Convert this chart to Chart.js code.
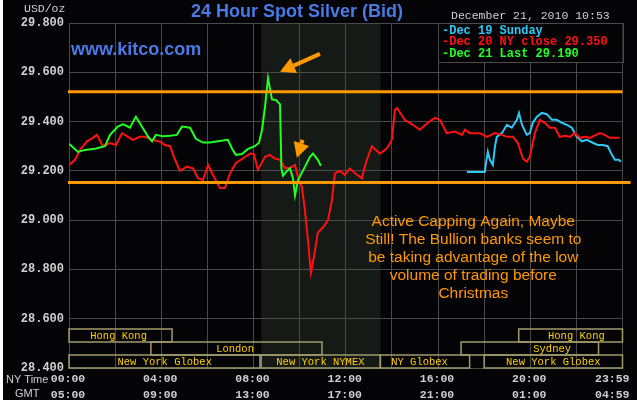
<!DOCTYPE html>
<html>
<head>
<meta charset="utf-8">
<title>24 Hour Spot Silver (Bid)</title>
<script src="https://cdn.jsdelivr.net/npm/chart.js@4.4.0/dist/chart.umd.min.js"></script>
<style>
  html, body { margin: 0; padding: 0; background: #fff; }
  #wrap { width: 637px; height: 403px; }
</style>
</head>
<body>
<div id="wrap"><canvas id="silverChart" width="637" height="403"></canvas></div>
<script>
// hours since 00:00 NY time, price in USD/oz
const dec21Hours = [0, 0.39, 0.69, 1.13, 1.56, 1.78, 2.12, 2.34, 2.64, 2.90, 3.16, 3.42, 3.60, 3.77, 4.08, 4.38, 4.68, 4.90, 5.25, 5.50, 5.81, 6.11, 6.46, 6.89, 7.07, 7.24, 7.50, 7.76, 8.06, 8.24, 8.37, 8.50, 8.63, 8.80, 8.97, 9.15, 9.21, 9.28, 9.45, 9.58, 9.71, 9.80, 9.93, 10.14, 10.45, 10.58, 10.79, 10.92];
const dec21Prices = [29.31, 29.277, 29.285, 29.29, 29.30, 29.346, 29.38, 29.39, 29.375, 29.42, 29.38, 29.34, 29.32, 29.346, 29.34, 29.342, 29.346, 29.38, 29.375, 29.33, 29.315, 29.315, 29.32, 29.326, 29.29, 29.265, 29.268, 29.289, 29.30, 29.314, 29.367, 29.46, 29.577, 29.49, 29.488, 29.47, 29.21, 29.18, 29.20, 29.21, 29.17, 29.10, 29.163, 29.2, 29.257, 29.27, 29.245, 29.22];

const dec20Hours = [0, 0.26, 0.48, 0.78, 1.04, 1.21, 1.47, 1.78, 2.04, 2.30, 2.56, 2.77, 3.08, 3.29, 3.60, 3.95, 4.16, 4.38, 4.60, 4.81, 5.11, 5.38, 5.59, 5.81, 6.03, 6.24, 6.55, 6.76, 6.98, 7.24, 7.54, 7.85, 8.02, 8.19, 8.50, 8.71, 8.93, 9.15, 9.36, 9.58, 9.80, 9.93, 10.10, 10.23, 10.36, 10.49, 10.62, 10.79, 11.01, 11.23, 11.40, 11.53, 11.75, 11.96, 12.18, 12.40, 12.70, 12.87, 13.13, 13.48, 13.78, 14.00, 14.13, 14.22, 14.56, 14.91, 15.21, 15.56, 15.86, 16.08, 16.38, 16.73, 17.04, 17.17, 17.38, 17.82, 18.12, 18.47, 18.77, 18.99, 19.25, 19.46, 19.68, 19.85, 19.98, 20.20, 20.42, 20.63, 20.85, 21.07, 21.28, 21.50, 21.72, 21.93, 22.15, 22.37, 22.58, 23.02, 23.23, 23.45, 23.88];
const dec20Prices = [29.224, 29.245, 29.285, 29.32, 29.334, 29.346, 29.30, 29.313, 29.305, 29.353, 29.338, 29.326, 29.338, 29.338, 29.326, 29.318, 29.305, 29.30, 29.245, 29.20, 29.217, 29.21, 29.17, 29.163, 29.224, 29.184, 29.13, 29.13, 29.19, 29.232, 29.25, 29.27, 29.268, 29.204, 29.257, 29.265, 29.25, 29.245, 29.212, 29.212, 29.224, 29.175, 29.135, 29.04, 28.92, 28.786, 28.85, 28.95, 28.97, 29.0, 29.08, 29.19, 29.2, 29.184, 29.21, 29.19, 29.17, 29.232, 29.30, 29.27, 29.29, 29.325, 29.447, 29.455, 29.407, 29.387, 29.367, 29.395, 29.415, 29.407, 29.353, 29.36, 29.346, 29.367, 29.353, 29.353, 29.338, 29.353, 29.346, 29.338, 29.338, 29.314, 29.25, 29.237, 29.257, 29.353, 29.407, 29.395, 29.375, 29.375, 29.338, 29.342, 29.338, 29.353, 29.334, 29.338, 29.334, 29.353, 29.346, 29.334, 29.334];

const dec19Hours = [17.25, 18.03, 18.08, 18.16, 18.25, 18.38, 18.47, 18.55, 18.77, 18.99, 19.20, 19.42, 19.51, 19.64, 19.85, 19.98, 20.11, 20.29, 20.50, 20.72, 20.94, 21.15, 21.37, 21.59, 21.80, 22.02, 22.24, 22.45, 22.71, 22.93, 23.15, 23.36, 23.54, 23.67, 23.84, 23.93];
const dec19Prices = [29.195, 29.195, 29.23, 29.278, 29.245, 29.224, 29.30, 29.338, 29.353, 29.387, 29.375, 29.407, 29.435, 29.387, 29.346, 29.353, 29.395, 29.42, 29.435, 29.43, 29.407, 29.407, 29.395, 29.387, 29.375, 29.338, 29.32, 29.326, 29.314, 29.305, 29.305, 29.30, 29.265, 29.245, 29.245, 29.237];

const legendLabels = ['-Dec 19 Sunday', '-Dec 20 NY close 29.350', '-Dec 21 Last 29.190'];

// x axis labels
const labelHours = [0, 4, 8, 12, 16, 20, 24];
const nyTimeLabels = ['00:00', '04:00', '08:00', '12:00', '16:00', '20:00', '23:59'];
const gmtLabels = ['05:00', '09:00', '13:00', '17:00', '21:00', '01:00', '04:59'];

// trading sessions (row 0 = top)
const sessionNames = ['Hong Kong', 'London', 'New York Globex', 'New York NYMEX', 'NY Globex', 'Sydney', 'New York Globex', 'Hong Kong'];
const sessionStart = [0, 3.55, 0, 8.33, 13.5, 17.0, 18.0, 19.5];
const sessionEnd = [4.47, 10.97, 8.28, 13.5, 17.37, 22.96, 24, 24];
const sessionRow = [0, 1, 2, 2, 2, 1, 2, 0];
const sessionLabelAt = [2.15, 7.2, 4.15, 10.9, 15.2, 20.95, 21.0, 22.0];

// COMEX floor session (shaded)
const floorHours = [8.33, 13.5];

// drawn-in resistance / support lines
const capLevels = [29.521, 29.153];
const capEnds = [24, 24.35];

// arrows [tailHour, tailPrice, tipHour, tipPrice]
const arrows = [
  [10.88, 29.675, 9.15, 29.602],
  [10.13, 29.326, 9.88, 29.253]
];

const noteLines = ['Active Capping Again, Maybe', 'Still! The Bullion banks seem to', 'be taking advantage of the low', 'volume of trading before', 'Christmas'];
const noteAt = [17.53, 28.994];

const MONO = '"Liberation Mono", "DejaVu Sans Mono", monospace';
const SANS = '"Liberation Sans", Arial, sans-serif';
const GRID = '#4a4a4a';
const ORANGE = '#ff9900';

const toPoints = (hours, prices) => hours.map((h, i) => ({ x: h, y: prices[i] }));

function drawArrow(ctx, x1, y1, x2, y2) {
  const ang = Math.atan2(y2 - y1, x2 - x1);
  const headLen = 15, headW = 8;
  const bx = x2 - headLen * Math.cos(ang), by = y2 - headLen * Math.sin(ang);
  ctx.strokeStyle = ORANGE;
  ctx.lineWidth = 4;
  ctx.beginPath();
  ctx.moveTo(x1, y1);
  ctx.lineTo(bx, by);
  ctx.stroke();
  ctx.fillStyle = ORANGE;
  ctx.beginPath();
  ctx.moveTo(x2, y2);
  ctx.lineTo(bx + headW * Math.sin(ang), by - headW * Math.cos(ang));
  ctx.lineTo(bx - headW * Math.sin(ang), by + headW * Math.cos(ang));
  ctx.closePath();
  ctx.fill();
}

const kitcoDecor = {
  id: 'kitcoDecor',
  beforeDraw(chart) {
    const { ctx, chartArea: a, scales: { x } } = chart;
    ctx.save();
    ctx.fillStyle = '#fff';
    ctx.fillRect(0, 0, chart.width, chart.height);
    ctx.fillStyle = '#040306';
    ctx.fillRect(3, 0, chart.width - 3, chart.height - 3);
    const x0 = x.getPixelForValue(floorHours[0]);
    const x1 = x.getPixelForValue(floorHours[1]);
    ctx.fillStyle = '#161a16';
    ctx.fillRect(x0, a.top, x1 - x0, a.bottom - a.top);
    ctx.restore();
  },
  afterDatasetsDraw(chart) {
    const { ctx, chartArea: a, scales: { x, y } } = chart;
    ctx.save();

    // session boxes
    const rowH = 13;
    ctx.font = '10.5px ' + MONO;
    ctx.textAlign = 'center';
    ctx.textBaseline = 'middle';
    sessionNames.forEach((name, i) => {
      const left = x.getPixelForValue(sessionStart[i]);
      const right = x.getPixelForValue(sessionEnd[i]);
      const top = a.bottom - (3 - sessionRow[i]) * rowH;
      ctx.strokeStyle = '#a09c6c';
      ctx.lineWidth = 1.5;
      ctx.strokeRect(left, top, right - left, rowH);
      ctx.fillStyle = '#ffd000';
      ctx.fillText(name, x.getPixelForValue(sessionLabelAt[i]), top + rowH / 2 + 1);
    });

    // capping lines
    ctx.strokeStyle = ORANGE;
    ctx.lineWidth = 3;
    capLevels.forEach((lvl, i) => {
      const py = y.getPixelForValue(lvl);
      ctx.beginPath();
      ctx.moveTo(a.left - 1, py);
      ctx.lineTo(x.getPixelForValue(capEnds[i]), py);
      ctx.stroke();
    });

    arrows.forEach(ar => drawArrow(ctx,
      x.getPixelForValue(ar[0]), y.getPixelForValue(ar[1]),
      x.getPixelForValue(ar[2]), y.getPixelForValue(ar[3])));

    // annotation
    ctx.fillStyle = ORANGE;
    ctx.font = '15.5px ' + SANS;
    ctx.textAlign = 'center';
    const nx = x.getPixelForValue(noteAt[0]);
    const ny = y.getPixelForValue(noteAt[1]);
    noteLines.forEach((t, i) => ctx.fillText(t, nx, ny + i * 18));

    // legend box
    const lx = x.getPixelForValue(16);
    ctx.fillStyle = '#040306';
    ctx.fillRect(lx, a.top, a.right - lx, 39);
    ctx.strokeStyle = GRID;
    ctx.lineWidth = 1;
    ctx.strokeRect(Math.round(lx) + 0.5, Math.round(a.top) + 0.5, Math.round(a.right - lx), 39);
    const legendColors = chart.data.datasets.map(d => d.borderColor);
    ctx.font = 'bold 12px ' + MONO;
    ctx.textAlign = 'left';
    legendLabels.forEach((t, i) => {
      ctx.fillStyle = legendColors[2 - i];
      ctx.fillText(t, lx + 4, a.top + 7.5 + i * 11.7);
    });
    ctx.restore();
  },
  afterDraw(chart) {
    const { ctx, chartArea: a, scales: { x } } = chart;
    ctx.save();
    ctx.textBaseline = 'middle';

    // x axis labels, two rows
    ctx.font = 'bold 11.5px ' + MONO;
    ctx.fillStyle = '#d0d0d0';
    labelHours.forEach((h, i) => {
      let px = x.getPixelForValue(h) - 1;
      if (i === labelHours.length - 1) { ctx.textAlign = 'right'; px = a.right + 7; }
      else ctx.textAlign = 'center';
      ctx.fillText(nyTimeLabels[i], px, a.bottom + 11.5);
      ctx.fillText(gmtLabels[i], px, a.bottom + 27.5);
    });
    ctx.font = '11px ' + SANS;
    ctx.textAlign = 'left';
    ctx.fillText('NY Time', 6, a.bottom + 11.5);
    ctx.fillText('GMT', 15, a.bottom + 26);

    ctx.font = '11.5px ' + MONO;
    ctx.fillText('USD/oz', 24, 9);
    ctx.fillText('December 21, 2010 10:53', 451, 16);

    ctx.fillStyle = '#4a7ae6';
    ctx.font = 'bold 18px ' + SANS;
    ctx.textAlign = 'center';
    ctx.fillText('24 Hour Spot Silver (Bid)', 297, 12);
    ctx.textAlign = 'left';
    ctx.fillText('www.kitco.com', 71, 50);
    ctx.restore();
  }
};

new Chart(document.getElementById('silverChart'), {
  type: 'line',
  data: {
    datasets: [
      { label: 'Dec 21', data: toPoints(dec21Hours, dec21Prices), borderColor: '#22ff22', order: 0 },
      { label: 'Dec 20', data: toPoints(dec20Hours, dec20Prices), borderColor: '#ff1111', order: 1 },
      { label: 'Dec 19', data: toPoints(dec19Hours, dec19Prices), borderColor: '#2ec8f4', order: 2 }
    ]
  },
  options: {
    responsive: false,
    animation: false,
    layout: { padding: { left: 0, top: 23, right: 14.5, bottom: 35 } },
    elements: {
      point: { radius: 0 },
      line: { borderWidth: 2, tension: 0 }
    },
    plugins: { legend: { display: false }, tooltip: { enabled: false } },
    scales: {
      x: {
        type: 'linear',
        min: 0,
        max: 24,
        ticks: { display: false, stepSize: 2 },
        grid: { color: GRID, drawTicks: false },
        border: { color: GRID }
      },
      y: {
        min: 28.4,
        max: 29.8,
        afterFit: s => { s.width = 69; },
        ticks: {
          stepSize: 0.2,
          padding: 5,
          color: '#d0d0d0',
          font: { family: MONO, size: 12, weight: 'bold' },
          callback: v => v.toFixed(3)
        },
        grid: { color: GRID, drawTicks: false },
        border: { color: GRID }
      }
    }
  },
  plugins: [kitcoDecor]
});
</script>
</body>
</html>
